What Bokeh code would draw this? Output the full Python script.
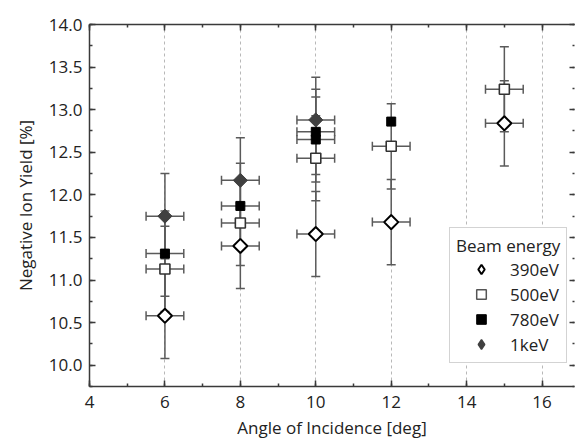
import math
from bokeh.plotting import figure
from bokeh.models import (ColumnDataSource, Whisker, TeeHead, LinearAxis,
                          SingleIntervalTicker, Range1d, Legend, LegendItem,
                          CustomJSTickFormatter)
from bokeh.embed import file_html
from bokeh.resources import INLINE

# ---------------- data ----------------
series_names = ["390eV", "500eV", "780eV", "1keV"]

angle_390 = [6, 8, 10, 12, 15]
yield_390 = [10.58, 11.40, 11.54, 11.68, 12.84]
yerr_390 = [0.5, 0.5, 0.5, 0.5, 0.5]
xerr_390 = [0.5, 0.5, 0.5, 0.5, 0.5]

angle_500 = [6, 8, 10, 12, 15]
yield_500 = [11.13, 11.67, 12.43, 12.57, 13.24]
yerr_500 = [0.5, 0.5, 0.5, 0.5, 0.5]
xerr_500 = [0.5, 0.5, 0.5, 0.5, 0.5]

angle_780 = [6, 8, 10, 10, 12]
yield_780 = [11.31, 11.87, 12.74, 12.65, 12.86]
yerr_780 = [0.5, 0.5, 0.5, 0.5, 0.0]
xerr_780 = [0.5, 0.5, 0.5, 0.5, 0.0]

angle_1k = [6, 8, 10]
yield_1k = [11.75, 12.17, 12.88]
yerr_1k = [0.5, 0.5, 0.5]
xerr_1k = [0.5, 0.5, 0.5]

x_label = "Angle of Incidence [deg]"
y_label = "Negative Ion Yield [%]"
legend_title = "Beam energy"

FONT = "Open Sans"
FS = "17px"
TEXT_COLOR = "#222222"
AXIS_COLOR = "#3a3a3a"
ERR_COLOR = "#5a5a5a"

p = figure(width=577, height=441, output_backend="svg", toolbar_location=None,
           x_range=Range1d(4, 16.86), y_range=Range1d(9.75, 14.0),
           min_border_left=89, min_border_right=3, min_border_top=24,
           min_border_bottom=53, outline_line_color=None)
p.background_fill_color = "white"
p.border_fill_color = "white"

# axes
p.xaxis.ticker = SingleIntervalTicker(interval=2, num_minor_ticks=2)
p.yaxis.ticker = SingleIntervalTicker(interval=0.5, num_minor_ticks=2)


def style_ticks(ax):
    ax.axis_line_color = AXIS_COLOR
    ax.axis_line_width = 1.5
    ax.major_tick_line_color = AXIS_COLOR
    ax.minor_tick_line_color = AXIS_COLOR
    ax.major_tick_line_width = 1.5
    ax.minor_tick_line_width = 1.5
    ax.major_tick_in = 6
    ax.major_tick_out = 0
    ax.minor_tick_in = 3
    ax.minor_tick_out = 0


for ax in (p.xaxis[0], p.yaxis[0]):
    style_ticks(ax)
    ax.major_label_text_font = FONT
    ax.major_label_text_font_size = FS
    ax.major_label_text_color = TEXT_COLOR
    ax.axis_label_text_font = FONT
    ax.axis_label_text_font_size = FS
    ax.axis_label_text_font_style = "normal"
    ax.axis_label_text_color = TEXT_COLOR
p.xaxis.axis_label = x_label
p.yaxis.axis_label = y_label
p.xaxis.major_label_standoff = 9
p.xaxis.axis_label_standoff = 5
p.yaxis.major_label_standoff = 7
p.yaxis.axis_label_standoff = 9
p.yaxis.formatter = CustomJSTickFormatter(code="return tick.toFixed(1);")

# mirrored axes (ticks only, no labels)
top = LinearAxis(ticker=SingleIntervalTicker(interval=2, num_minor_ticks=2),
                 formatter=CustomJSTickFormatter(code="return '';"))
right = LinearAxis(ticker=SingleIntervalTicker(interval=0.5, num_minor_ticks=2),
                   formatter=CustomJSTickFormatter(code="return '';"))
for ax in (top, right):
    style_ticks(ax)
    ax.major_label_standoff = 0
right.axis_line_alpha = 0
right.major_tick_in = 5
right.minor_tick_in = 2
p.add_layout(top, "above")
p.add_layout(right, "right")

# grids
p.ygrid.grid_line_color = None
p.xgrid.grid_line_color = "#b8b8b8"
p.xgrid.grid_line_dash = "3 3"
p.xgrid.grid_line_width = 1


# error bars
def add_errors(xs, ys, xe, ye):
    xv = [x for x, e in zip(xs, ye) if e > 0]
    lo = [y - e for y, e in zip(ys, ye) if e > 0]
    hi = [y + e for y, e in zip(ys, ye) if e > 0]
    sv = ColumnDataSource(dict(x=xv, lower=lo, upper=hi))
    p.add_layout(Whisker(base="x", lower="lower", upper="upper", dimension="height",
                         source=sv, line_color=ERR_COLOR, line_width=1.5,
                         upper_head=TeeHead(size=9, line_color=ERR_COLOR, line_width=1.5),
                         lower_head=TeeHead(size=9, line_color=ERR_COLOR, line_width=1.5)))
    yv = [y for y, e in zip(ys, xe) if e > 0]
    xl = [x - e for x, e in zip(xs, xe) if e > 0]
    xu = [x + e for x, e in zip(xs, xe) if e > 0]
    sh = ColumnDataSource(dict(y=yv, lower=xl, upper=xu))
    p.add_layout(Whisker(base="y", lower="lower", upper="upper", dimension="width",
                         source=sh, line_color=ERR_COLOR, line_width=1.5,
                         upper_head=TeeHead(size=9, line_color=ERR_COLOR, line_width=1.5),
                         lower_head=TeeHead(size=9, line_color=ERR_COLOR, line_width=1.5)))


add_errors(angle_390, yield_390, xerr_390, yerr_390)
add_errors(angle_500, yield_500, xerr_500, yerr_500)
add_errors(angle_780, yield_780, xerr_780, yerr_780)
add_errors(angle_1k, yield_1k, xerr_1k, yerr_1k)

# markers
p.scatter(angle_390, yield_390, marker="square", angle=math.pi / 4, size=10,
          fill_color="white", line_color="black", line_width=2)
p.scatter(angle_500, yield_500, marker="square", size=10,
          fill_color="white", line_color="#333333", line_width=1.6)
p.scatter(angle_780, yield_780, marker="square", size=9,
          fill_color="black", line_color="black", line_width=1)
p.scatter(angle_1k, yield_1k, marker="square", angle=math.pi / 4, size=10,
          fill_color="#404040", line_color="#404040", line_width=1)

# legend proxies (legend glyphs ignore angle, so use diamond markers here);
# a single NaN point keeps them off the plot area
NAN = float("nan")
g390 = p.scatter(x=[NAN], y=[NAN], marker="diamond", fill_color="white",
                 line_color="black", line_width=2)
g500 = p.scatter(x=[NAN], y=[NAN], marker="square", fill_color="white",
                 line_color="#555555", line_width=1.5)
g780 = p.scatter(x=[NAN], y=[NAN], marker="square", fill_color="black",
                 line_color="black", line_width=1)
g1k = p.scatter(x=[NAN], y=[NAN], marker="diamond", fill_color="#404040",
                line_color="#404040", line_width=1.5)

legend = Legend(items=[LegendItem(label=series_names[0], renderers=[g390]),
                       LegendItem(label=series_names[1], renderers=[g500]),
                       LegendItem(label=series_names[2], renderers=[g780]),
                       LegendItem(label=series_names[3], renderers=[g1k])],
                location=(360, 23), title=legend_title)
legend.title_text_font = FONT
legend.title_text_font_size = FS
legend.title_text_font_style = "normal"
legend.title_text_color = TEXT_COLOR
legend.label_text_font = FONT
legend.label_text_font_size = FS
legend.label_text_color = TEXT_COLOR
legend.border_line_color = "#a8a8a8"
legend.border_line_width = 1.5
legend.background_fill_color = "white"
legend.background_fill_alpha = 1
legend.padding = 6
legend.margin = 0
legend.spacing = 1
legend.glyph_width = 50
legend.glyph_height = 24
legend.label_height = 24
legend.label_standoff = 4
legend.title_standoff = 0
p.add_layout(legend, "center")

open("out.html", "w").write(file_html(p, INLINE))
